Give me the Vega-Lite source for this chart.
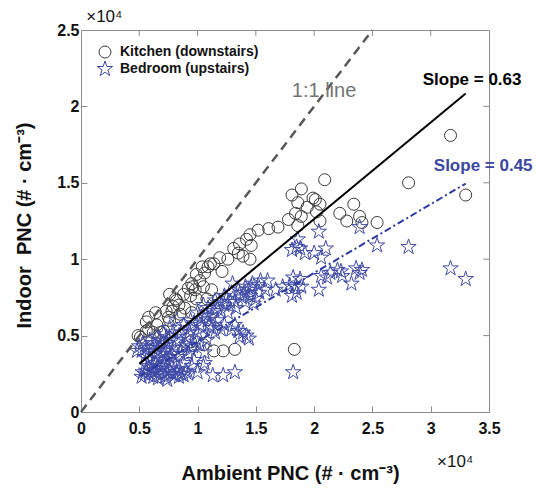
{
  "$schema": "https://vega.github.io/schema/vega-lite/v6.json",
  "width": 408,
  "height": 382,
  "autosize": {"type": "none"},
  "padding": {"left": 81, "top": 30, "right": 47, "bottom": 77},
  "background": "white",
  "config": {
    "view": {"stroke": "#8c8c8c", "strokeWidth": 1},
    "font": "Liberation Sans"
  },
  "datasets": {
    "pts": [
      {"loc":"Kitchen (downstairs)","x":0.49,"y":0.50},{"loc":"Kitchen (downstairs)","x":0.51,"y":0.49},{"loc":"Kitchen (downstairs)","x":0.56,"y":0.53},{"loc":"Kitchen (downstairs)","x":0.58,"y":0.54},{"loc":"Kitchen (downstairs)","x":0.56,"y":0.59},{"loc":"Kitchen (downstairs)","x":0.58,"y":0.62},{"loc":"Kitchen (downstairs)","x":0.64,"y":0.65},{"loc":"Kitchen (downstairs)","x":0.62,"y":0.52},{"loc":"Kitchen (downstairs)","x":0.68,"y":0.52},{"loc":"Kitchen (downstairs)","x":0.65,"y":0.57},{"loc":"Kitchen (downstairs)","x":0.71,"y":0.53},{"loc":"Kitchen (downstairs)","x":0.75,"y":0.62},{"loc":"Kitchen (downstairs)","x":0.76,"y":0.60},{"loc":"Kitchen (downstairs)","x":0.73,"y":0.66},{"loc":"Kitchen (downstairs)","x":0.78,"y":0.66},{"loc":"Kitchen (downstairs)","x":0.76,"y":0.77},{"loc":"Kitchen (downstairs)","x":0.79,"y":0.69},{"loc":"Kitchen (downstairs)","x":0.81,"y":0.74},{"loc":"Kitchen (downstairs)","x":0.82,"y":0.73},{"loc":"Kitchen (downstairs)","x":0.84,"y":0.70},{"loc":"Kitchen (downstairs)","x":0.85,"y":0.64},{"loc":"Kitchen (downstairs)","x":0.89,"y":0.68},{"loc":"Kitchen (downstairs)","x":0.88,"y":0.77},{"loc":"Kitchen (downstairs)","x":0.92,"y":0.81},{"loc":"Kitchen (downstairs)","x":0.94,"y":0.76},{"loc":"Kitchen (downstairs)","x":0.95,"y":0.84},{"loc":"Kitchen (downstairs)","x":0.95,"y":0.65},{"loc":"Kitchen (downstairs)","x":0.96,"y":0.82},{"loc":"Kitchen (downstairs)","x":0.98,"y":0.80},{"loc":"Kitchen (downstairs)","x":0.99,"y":0.74},{"loc":"Kitchen (downstairs)","x":0.99,"y":0.90},{"loc":"Kitchen (downstairs)","x":1.02,"y":0.86},{"loc":"Kitchen (downstairs)","x":1.04,"y":0.95},{"loc":"Kitchen (downstairs)","x":1.05,"y":0.82},{"loc":"Kitchen (downstairs)","x":1.06,"y":0.91},{"loc":"Kitchen (downstairs)","x":1.08,"y":0.74},{"loc":"Kitchen (downstairs)","x":1.09,"y":0.95},{"loc":"Kitchen (downstairs)","x":1.11,"y":0.97},{"loc":"Kitchen (downstairs)","x":1.12,"y":0.80},{"loc":"Kitchen (downstairs)","x":1.14,"y":0.97},{"loc":"Kitchen (downstairs)","x":1.19,"y":1.01},{"loc":"Kitchen (downstairs)","x":1.21,"y":0.92},{"loc":"Kitchen (downstairs)","x":1.26,"y":1.00},{"loc":"Kitchen (downstairs)","x":1.31,"y":1.07},{"loc":"Kitchen (downstairs)","x":1.35,"y":1.04},{"loc":"Kitchen (downstairs)","x":1.36,"y":1.10},{"loc":"Kitchen (downstairs)","x":1.39,"y":1.02},{"loc":"Kitchen (downstairs)","x":1.42,"y":1.13},{"loc":"Kitchen (downstairs)","x":1.45,"y":1.00},{"loc":"Kitchen (downstairs)","x":1.45,"y":1.16},{"loc":"Kitchen (downstairs)","x":1.46,"y":1.09},{"loc":"Kitchen (downstairs)","x":1.52,"y":1.19},{"loc":"Kitchen (downstairs)","x":1.61,"y":1.20},{"loc":"Kitchen (downstairs)","x":1.69,"y":1.21},{"loc":"Kitchen (downstairs)","x":1.78,"y":1.26},{"loc":"Kitchen (downstairs)","x":1.81,"y":1.42},{"loc":"Kitchen (downstairs)","x":1.84,"y":1.30},{"loc":"Kitchen (downstairs)","x":1.86,"y":1.37},{"loc":"Kitchen (downstairs)","x":1.86,"y":1.22},{"loc":"Kitchen (downstairs)","x":1.89,"y":1.46},{"loc":"Kitchen (downstairs)","x":1.89,"y":1.28},{"loc":"Kitchen (downstairs)","x":1.94,"y":1.34},{"loc":"Kitchen (downstairs)","x":1.99,"y":1.40},{"loc":"Kitchen (downstairs)","x":2.01,"y":1.39},{"loc":"Kitchen (downstairs)","x":2.02,"y":1.31},{"loc":"Kitchen (downstairs)","x":2.05,"y":1.36},{"loc":"Kitchen (downstairs)","x":2.05,"y":1.25},{"loc":"Kitchen (downstairs)","x":2.09,"y":1.52},{"loc":"Kitchen (downstairs)","x":2.22,"y":1.30},{"loc":"Kitchen (downstairs)","x":2.28,"y":1.25},{"loc":"Kitchen (downstairs)","x":2.34,"y":1.36},{"loc":"Kitchen (downstairs)","x":2.39,"y":1.28},{"loc":"Kitchen (downstairs)","x":2.41,"y":1.24},{"loc":"Kitchen (downstairs)","x":2.54,"y":1.24},{"loc":"Kitchen (downstairs)","x":2.81,"y":1.50},{"loc":"Kitchen (downstairs)","x":3.17,"y":1.81},{"loc":"Kitchen (downstairs)","x":3.30,"y":1.42},{"loc":"Kitchen (downstairs)","x":0.94,"y":0.46},{"loc":"Kitchen (downstairs)","x":1.05,"y":0.44},{"loc":"Kitchen (downstairs)","x":1.14,"y":0.40},{"loc":"Kitchen (downstairs)","x":1.22,"y":0.40},{"loc":"Kitchen (downstairs)","x":1.32,"y":0.41},{"loc":"Kitchen (downstairs)","x":1.83,"y":0.41},
      {"loc":"Bedroom (upstairs)","x":3.17,"y":0.94},{"loc":"Bedroom (upstairs)","x":3.30,"y":0.87},{"loc":"Bedroom (upstairs)","x":2.81,"y":1.08},{"loc":"Bedroom (upstairs)","x":2.54,"y":1.09},{"loc":"Bedroom (upstairs)","x":2.39,"y":1.21},{"loc":"Bedroom (upstairs)","x":2.04,"y":1.18},{"loc":"Bedroom (upstairs)","x":2.10,"y":1.07},{"loc":"Bedroom (upstairs)","x":2.00,"y":1.04},{"loc":"Bedroom (upstairs)","x":2.06,"y":1.01},{"loc":"Bedroom (upstairs)","x":1.86,"y":1.13},{"loc":"Bedroom (upstairs)","x":1.81,"y":1.06},{"loc":"Bedroom (upstairs)","x":1.88,"y":1.07},{"loc":"Bedroom (upstairs)","x":1.92,"y":1.04},{"loc":"Bedroom (upstairs)","x":1.85,"y":1.08},{"loc":"Bedroom (upstairs)","x":2.36,"y":0.94},{"loc":"Bedroom (upstairs)","x":2.41,"y":0.93},{"loc":"Bedroom (upstairs)","x":2.39,"y":0.91},{"loc":"Bedroom (upstairs)","x":2.23,"y":0.92},{"loc":"Bedroom (upstairs)","x":2.20,"y":0.93},{"loc":"Bedroom (upstairs)","x":2.14,"y":0.91},{"loc":"Bedroom (upstairs)","x":2.11,"y":0.88},{"loc":"Bedroom (upstairs)","x":2.06,"y":0.89},{"loc":"Bedroom (upstairs)","x":2.32,"y":0.84},{"loc":"Bedroom (upstairs)","x":2.24,"y":0.89},{"loc":"Bedroom (upstairs)","x":2.04,"y":0.80},{"loc":"Bedroom (upstairs)","x":1.82,"y":0.88},{"loc":"Bedroom (upstairs)","x":1.88,"y":0.87},{"loc":"Bedroom (upstairs)","x":1.79,"y":0.83},{"loc":"Bedroom (upstairs)","x":1.84,"y":0.82},{"loc":"Bedroom (upstairs)","x":1.89,"y":0.82},{"loc":"Bedroom (upstairs)","x":1.73,"y":0.82},{"loc":"Bedroom (upstairs)","x":1.81,"y":0.76},{"loc":"Bedroom (upstairs)","x":1.85,"y":0.78},{"loc":"Bedroom (upstairs)","x":1.67,"y":0.80},{"loc":"Bedroom (upstairs)","x":1.82,"y":0.26},
      {"loc":"Bedroom (upstairs)","x":1.54,"y":0.86},{"loc":"Bedroom (upstairs)","x":1.47,"y":0.84},{"loc":"Bedroom (upstairs)","x":1.41,"y":0.82},{"loc":"Bedroom (upstairs)","x":1.35,"y":0.80},{"loc":"Bedroom (upstairs)","x":1.29,"y":0.78},{"loc":"Bedroom (upstairs)","x":1.53,"y":0.78},{"loc":"Bedroom (upstairs)","x":1.45,"y":0.76},{"loc":"Bedroom (upstairs)","x":1.38,"y":0.75},{"loc":"Bedroom (upstairs)","x":1.32,"y":0.72},{"loc":"Bedroom (upstairs)","x":1.23,"y":0.70},{"loc":"Bedroom (upstairs)","x":1.17,"y":0.68},{"loc":"Bedroom (upstairs)","x":1.41,"y":0.72},{"loc":"Bedroom (upstairs)","x":1.26,"y":0.65},{"loc":"Bedroom (upstairs)","x":1.17,"y":0.60},{"loc":"Bedroom (upstairs)","x":1.09,"y":0.60},{"loc":"Bedroom (upstairs)","x":1.03,"y":0.61},{"loc":"Bedroom (upstairs)","x":0.94,"y":0.60},{"loc":"Bedroom (upstairs)","x":1.09,"y":0.68},{"loc":"Bedroom (upstairs)","x":1.15,"y":0.73},{"loc":"Bedroom (upstairs)","x":1.23,"y":0.76},{"loc":"Bedroom (upstairs)","x":1.04,"y":0.55},{"loc":"Bedroom (upstairs)","x":0.94,"y":0.55},{"loc":"Bedroom (upstairs)","x":0.88,"y":0.57},{"loc":"Bedroom (upstairs)","x":0.82,"y":0.60},{"loc":"Bedroom (upstairs)","x":0.76,"y":0.55},{"loc":"Bedroom (upstairs)","x":0.79,"y":0.52},{"loc":"Bedroom (upstairs)","x":0.71,"y":0.51},{"loc":"Bedroom (upstairs)","x":0.65,"y":0.49},{"loc":"Bedroom (upstairs)","x":0.59,"y":0.47},{"loc":"Bedroom (upstairs)","x":0.53,"y":0.45},{"loc":"Bedroom (upstairs)","x":0.48,"y":0.40},{"loc":"Bedroom (upstairs)","x":0.56,"y":0.42},{"loc":"Bedroom (upstairs)","x":0.65,"y":0.43},{"loc":"Bedroom (upstairs)","x":0.73,"y":0.45},{"loc":"Bedroom (upstairs)","x":0.82,"y":0.47},{"loc":"Bedroom (upstairs)","x":0.91,"y":0.49},{"loc":"Bedroom (upstairs)","x":1.00,"y":0.52},
      {"loc":"Bedroom (upstairs)","x":1.12,"y":0.55},{"loc":"Bedroom (upstairs)","x":1.20,"y":0.54},{"loc":"Bedroom (upstairs)","x":1.29,"y":0.54},{"loc":"Bedroom (upstairs)","x":1.35,"y":0.53},{"loc":"Bedroom (upstairs)","x":1.39,"y":0.52},{"loc":"Bedroom (upstairs)","x":1.23,"y":0.57},{"loc":"Bedroom (upstairs)","x":1.32,"y":0.57},{"loc":"Bedroom (upstairs)","x":1.15,"y":0.52},{"loc":"Bedroom (upstairs)","x":1.42,"y":0.50},{"loc":"Bedroom (upstairs)","x":1.44,"y":0.48},{"loc":"Bedroom (upstairs)","x":1.36,"y":0.49},
      {"loc":"Bedroom (upstairs)","x":0.53,"y":0.26},{"loc":"Bedroom (upstairs)","x":0.58,"y":0.24},{"loc":"Bedroom (upstairs)","x":0.63,"y":0.26},{"loc":"Bedroom (upstairs)","x":0.68,"y":0.24},{"loc":"Bedroom (upstairs)","x":0.74,"y":0.26},{"loc":"Bedroom (upstairs)","x":0.80,"y":0.24},{"loc":"Bedroom (upstairs)","x":0.86,"y":0.25},{"loc":"Bedroom (upstairs)","x":0.61,"y":0.29},{"loc":"Bedroom (upstairs)","x":0.70,"y":0.30},{"loc":"Bedroom (upstairs)","x":0.78,"y":0.29},{"loc":"Bedroom (upstairs)","x":0.84,"y":0.28},{"loc":"Bedroom (upstairs)","x":0.56,"y":0.27},{"loc":"Bedroom (upstairs)","x":0.66,"y":0.22},{"loc":"Bedroom (upstairs)","x":0.74,"y":0.21},{"loc":"Bedroom (upstairs)","x":0.90,"y":0.27},{"loc":"Bedroom (upstairs)","x":0.95,"y":0.30},{"loc":"Bedroom (upstairs)","x":1.00,"y":0.26},{"loc":"Bedroom (upstairs)","x":1.05,"y":0.30},{"loc":"Bedroom (upstairs)","x":1.13,"y":0.24},{"loc":"Bedroom (upstairs)","x":1.22,"y":0.24},{"loc":"Bedroom (upstairs)","x":1.32,"y":0.26},
      {"loc":"Bedroom (upstairs)","x":0.59,"y":0.34},{"loc":"Bedroom (upstairs)","x":0.68,"y":0.35},{"loc":"Bedroom (upstairs)","x":0.76,"y":0.36},{"loc":"Bedroom (upstairs)","x":0.85,"y":0.39},{"loc":"Bedroom (upstairs)","x":0.94,"y":0.41},{"loc":"Bedroom (upstairs)","x":1.06,"y":0.32},{"loc":"Bedroom (upstairs)","x":1.06,"y":0.39},{"loc":"Bedroom (upstairs)","x":0.62,"y":0.31},{"loc":"Bedroom (upstairs)","x":0.71,"y":0.32},{"loc":"Bedroom (upstairs)","x":0.79,"y":0.33},{"loc":"Bedroom (upstairs)","x":0.88,"y":0.32},{"loc":"Bedroom (upstairs)","x":0.97,"y":0.34},{"loc":"Bedroom (upstairs)","x":0.64,"y":0.38},{"loc":"Bedroom (upstairs)","x":0.72,"y":0.40},{"loc":"Bedroom (upstairs)","x":0.80,"y":0.42},{"loc":"Bedroom (upstairs)","x":0.90,"y":0.44},{"loc":"Bedroom (upstairs)","x":0.99,"y":0.46},{"loc":"Bedroom (upstairs)","x":0.55,"y":0.36},
      {"loc":"Bedroom (upstairs)","x":1.00,"y":0.65},{"loc":"Bedroom (upstairs)","x":1.05,"y":0.70},{"loc":"Bedroom (upstairs)","x":1.12,"y":0.63},{"loc":"Bedroom (upstairs)","x":1.20,"y":0.66},{"loc":"Bedroom (upstairs)","x":1.28,"y":0.72},{"loc":"Bedroom (upstairs)","x":1.36,"y":0.77},{"loc":"Bedroom (upstairs)","x":1.44,"y":0.80},{"loc":"Bedroom (upstairs)","x":1.50,"y":0.74},{"loc":"Bedroom (upstairs)","x":1.58,"y":0.80},{"loc":"Bedroom (upstairs)","x":1.30,"y":0.84},{"loc":"Bedroom (upstairs)","x":1.48,"y":0.71},{"loc":"Bedroom (upstairs)","x":1.10,"y":0.57},{"loc":"Bedroom (upstairs)","x":0.97,"y":0.58},{"loc":"Bedroom (upstairs)","x":0.86,"y":0.52},{"loc":"Bedroom (upstairs)","x":0.68,"y":0.47},{"loc":"Bedroom (upstairs)","x":1.60,"y":0.86},
      {"loc":"Bedroom (upstairs)","x":0.52,"y":0.23},{"loc":"Bedroom (upstairs)","x":0.55,"y":0.25},{"loc":"Bedroom (upstairs)","x":0.60,"y":0.27},{"loc":"Bedroom (upstairs)","x":0.62,"y":0.23},{"loc":"Bedroom (upstairs)","x":0.65,"y":0.25},{"loc":"Bedroom (upstairs)","x":0.67,"y":0.28},{"loc":"Bedroom (upstairs)","x":0.70,"y":0.25},{"loc":"Bedroom (upstairs)","x":0.72,"y":0.23},{"loc":"Bedroom (upstairs)","x":0.76,"y":0.27},{"loc":"Bedroom (upstairs)","x":0.78,"y":0.25},{"loc":"Bedroom (upstairs)","x":0.82,"y":0.26},{"loc":"Bedroom (upstairs)","x":0.84,"y":0.23},{"loc":"Bedroom (upstairs)","x":0.88,"y":0.24},{"loc":"Bedroom (upstairs)","x":0.92,"y":0.25},{"loc":"Bedroom (upstairs)","x":0.57,"y":0.30},{"loc":"Bedroom (upstairs)","x":0.64,"y":0.32},{"loc":"Bedroom (upstairs)","x":0.73,"y":0.34},
      {"loc":"Bedroom (upstairs)","x":0.52,"y":0.40},{"loc":"Bedroom (upstairs)","x":0.58,"y":0.39},{"loc":"Bedroom (upstairs)","x":0.61,"y":0.42},{"loc":"Bedroom (upstairs)","x":0.66,"y":0.40},{"loc":"Bedroom (upstairs)","x":0.70,"y":0.37},{"loc":"Bedroom (upstairs)","x":0.75,"y":0.41},{"loc":"Bedroom (upstairs)","x":0.78,"y":0.38},{"loc":"Bedroom (upstairs)","x":0.83,"y":0.36},{"loc":"Bedroom (upstairs)","x":0.87,"y":0.42},{"loc":"Bedroom (upstairs)","x":0.92,"y":0.38},{"loc":"Bedroom (upstairs)","x":0.96,"y":0.43},{"loc":"Bedroom (upstairs)","x":1.02,"y":0.44},{"loc":"Bedroom (upstairs)","x":1.08,"y":0.47},{"loc":"Bedroom (upstairs)","x":0.75,"y":0.48},{"loc":"Bedroom (upstairs)","x":0.84,"y":0.50},{"loc":"Bedroom (upstairs)","x":0.93,"y":0.52},{"loc":"Bedroom (upstairs)","x":1.02,"y":0.57},{"loc":"Bedroom (upstairs)","x":1.07,"y":0.63},{"loc":"Bedroom (upstairs)","x":1.14,"y":0.66},{"loc":"Bedroom (upstairs)","x":1.19,"y":0.72},{"loc":"Bedroom (upstairs)","x":1.25,"y":0.74},{"loc":"Bedroom (upstairs)","x":1.33,"y":0.68},{"loc":"Bedroom (upstairs)","x":1.40,"y":0.78},{"loc":"Bedroom (upstairs)","x":1.46,"y":0.82},{"loc":"Bedroom (upstairs)","x":1.52,"y":0.83},{"loc":"Bedroom (upstairs)","x":0.70,"y":0.44},{"loc":"Bedroom (upstairs)","x":0.62,"y":0.45},{"loc":"Bedroom (upstairs)","x":0.50,"y":0.43}
    ]
  },
  "layer": [
    {
      "data": {"name": "pts"},
      "mark": {"type": "point", "filled": false, "strokeWidth": 1, "opacity": 1},
      "encoding": {
        "x": {"field": "x", "type": "quantitative", "scale": {"domain": [0, 3.5], "nice": false},
          "axis": {"orient": "bottom", "values": [0, 0.5, 1, 1.5, 2, 2.5, 3, 3.5], "format": "~f", "grid": false,
            "labelFontWeight": "bold", "labelFontSize": 16, "labelColor": "#111111", "labelPadding": 14, "labelFlush": false, "labelOverlap": false,
            "tickSize": -6, "tickColor": "#8c8c8c", "domainColor": "#8c8c8c",
            "title": "Ambient PNC (# · cm⁻³)", "titleFontSize": 20, "titleFontWeight": "bold", "titleColor": "#111111",
            "titleX": 209, "titleY": 67, "titleBaseline": "alphabetic", "titleAlign": "center"}},
        "y": {"field": "y", "type": "quantitative", "scale": {"domain": [0, 2.5], "nice": false},
          "axis": {"orient": "left", "values": [0, 0.5, 1, 1.5, 2, 2.5], "format": "~f", "grid": false,
            "labelFontWeight": "bold", "labelFontSize": 16, "labelColor": "#111111", "labelPadding": 8, "labelFlush": false, "labelOverlap": false,
            "tickSize": -6, "tickColor": "#8c8c8c", "domainColor": "#8c8c8c",
            "title": "Indoor\u00a0 PNC (# · cm⁻³)", "titleFontSize": 20, "titleFontWeight": "bold", "titleColor": "#111111",
            "titleX": -51, "titleY": 195, "titleBaseline": "alphabetic", "titleAlign": "center", "titleAngle": 270}},
        "shape": {"field": "loc", "type": "nominal",
          "scale": {"domain": ["Kitchen (downstairs)", "Bedroom (upstairs)"], "range": ["circle", "M0,-1L0.2245,-0.309L0.951,-0.309L0.363,0.118L0.588,0.809L0,0.382L-0.588,0.809L-0.363,0.118L-0.951,-0.309L-0.2245,-0.309Z"]},
          "legend": {"orient": "top-left", "title": null, "offset": 15, "padding": 0, "labelFontWeight": "bold", "labelFontSize": 14, "labelColor": "#111111", "labelOffset": 6, "rowPadding": -4, "symbolSize": 160, "symbolStrokeWidth": 1}},
        "color": {"field": "loc", "type": "nominal",
          "scale": {"domain": ["Kitchen (downstairs)", "Bedroom (upstairs)"], "range": ["#3a3a3a", "#3f4aa6"]},
          "legend": {"orient": "top-left", "title": null, "offset": 15, "padding": 0, "labelFontWeight": "bold", "labelFontSize": 14, "labelColor": "#111111", "labelOffset": 6, "rowPadding": -4, "symbolSize": 160, "symbolStrokeWidth": 1}},
        "size": {"field": "loc", "type": "nominal",
          "scale": {"domain": ["Kitchen (downstairs)", "Bedroom (upstairs)"], "range": [144, 260]}, "legend": null}
      }
    },
    {
      "data": {"values": [{"x": 0, "y": 0}, {"x": 2.5, "y": 2.5}]},
      "mark": {"type": "line", "color": "#585858", "strokeWidth": 2.5, "strokeDash": [9, 6]},
      "encoding": {
        "x": {"field": "x", "type": "quantitative"},
        "y": {"field": "y", "type": "quantitative"}
      }
    },
    {
      "data": {"values": [{"x": 0.5, "y": 0.315}, {"x": 3.3, "y": 2.085}]},
      "mark": {"type": "line", "color": "#000000", "strokeWidth": 2},
      "encoding": {
        "x": {"field": "x", "type": "quantitative"},
        "y": {"field": "y", "type": "quantitative"}
      }
    },
    {
      "data": {"values": [{"x": 0.5, "y": 0.235}, {"x": 3.3, "y": 1.495}]},
      "mark": {"type": "line", "color": "#2b3a9e", "strokeWidth": 2, "strokeDash": [7, 3, 2, 3]},
      "encoding": {
        "x": {"field": "x", "type": "quantitative"},
        "y": {"field": "y", "type": "quantitative"}
      }
    },
    {
      "data": {"values": [{"x": 2.085, "y": 2.06, "label": "1:1 line"}]},
      "mark": {"type": "text", "font": "Liberation Sans", "fontSize": 20, "color": "#747474", "baseline": "alphabetic", "align": "center"},
      "encoding": {
        "x": {"field": "x", "type": "quantitative"},
        "y": {"field": "y", "type": "quantitative"},
        "text": {"field": "label"}
      }
    },
    {
      "data": {"values": [{"x": 3.355, "y": 2.14, "label": "Slope = 0.63"}]},
      "mark": {"type": "text", "font": "Liberation Sans", "fontSize": 17, "fontWeight": "bold", "color": "#000000", "baseline": "alphabetic", "align": "center"},
      "encoding": {
        "x": {"field": "x", "type": "quantitative"},
        "y": {"field": "y", "type": "quantitative"},
        "text": {"field": "label"}
      }
    },
    {
      "data": {"values": [{"x": 3.45, "y": 1.58, "label": "Slope = 0.45"}]},
      "mark": {"type": "text", "font": "Liberation Sans", "fontSize": 17, "fontWeight": "bold", "color": "#3a47a3", "baseline": "alphabetic", "align": "center"},
      "encoding": {
        "x": {"field": "x", "type": "quantitative"},
        "y": {"field": "y", "type": "quantitative"},
        "text": {"field": "label"}
      }
    },
    {
      "data": {"values": [{"x": 0.2, "y": 2.555, "label": "×10⁴"}, {"x": 3.21, "y": -0.36, "label": "×10⁴"}]},
      "mark": {"type": "text", "font": "Liberation Sans", "fontSize": 17, "color": "#111111", "baseline": "alphabetic", "align": "center"},
      "encoding": {
        "x": {"field": "x", "type": "quantitative"},
        "y": {"field": "y", "type": "quantitative"},
        "text": {"field": "label"}
      }
    },
    {
      "data": {"values": [{"t": 0.5}, {"t": 1}, {"t": 1.5}, {"t": 2}, {"t": 2.5}, {"t": 3}]},
      "mark": {"type": "rule", "color": "#8c8c8c", "strokeWidth": 1},
      "encoding": {
        "x": {"field": "t", "type": "quantitative"},
        "y": {"datum": 2.5},
        "y2": {"datum": 2.46}
      }
    },
    {
      "data": {"values": [{"t": 0.5}, {"t": 1}, {"t": 1.5}, {"t": 2}]},
      "mark": {"type": "rule", "color": "#8c8c8c", "strokeWidth": 1},
      "encoding": {
        "y": {"field": "t", "type": "quantitative"},
        "x": {"datum": 3.5},
        "x2": {"datum": 3.45}
      }
    }
  ]
}
